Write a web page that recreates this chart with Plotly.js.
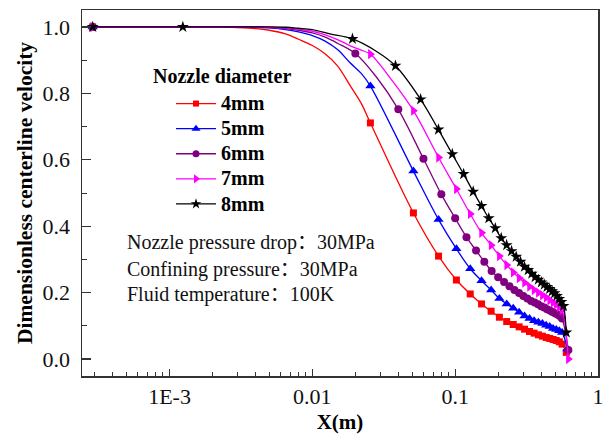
<!DOCTYPE html>
<html>
<head>
<meta charset="utf-8">
<script src="https://cdn.plot.ly/plotly-3.0.1.min.js"></script>
<style>html,body{margin:0;padding:0;background:#fff;}#chart{width:605px;height:434px;}</style>
</head>
<body>
<div id="chart"></div>
<script>
// ---- Data ----
const seriesNames = ['4mm', '5mm', '6mm', '7mm', '8mm'];

// 4mm (red squares): marker points, plus extra points that trace the drawn curve
const x4 = [0.00029, 0.0255, 0.051, 0.0765, 0.102, 0.1275, 0.153, 0.1785, 0.204, 0.2295, 0.255, 0.2805, 0.306, 0.3315, 0.357, 0.3825, 0.408, 0.4335, 0.459, 0.4845, 0.51, 0.5355, 0.561, 0.6];
const y4 = [1.0, 0.711, 0.440, 0.310, 0.238, 0.196, 0.166, 0.144, 0.126, 0.113, 0.104, 0.097, 0.090, 0.083, 0.078, 0.073, 0.069, 0.065, 0.062, 0.059, 0.056, 0.052, 0.045, 0.02];
const x4c = [0.002, 0.003, 0.004, 0.005, 0.0065, 0.008, 0.01, 0.0122, 0.015, 0.0183, 0.022];
const y4c = [1.0, 0.998, 0.995, 0.99, 0.979, 0.963, 0.944, 0.92, 0.883, 0.825, 0.77];

// 5mm (blue triangles)
const x5 = [0.00029, 0.0255, 0.051, 0.0765, 0.102, 0.1275, 0.153, 0.1785, 0.204, 0.2295, 0.255, 0.2805, 0.306, 0.3315, 0.357, 0.3825, 0.408, 0.4335, 0.459, 0.4845, 0.51, 0.5355, 0.561, 0.61];
const y5 = [1.0, 0.822, 0.566, 0.420, 0.332, 0.272, 0.236, 0.208, 0.182, 0.166, 0.153, 0.141, 0.130, 0.122, 0.115, 0.111, 0.107, 0.102, 0.098, 0.092, 0.089, 0.085, 0.080, 0.03];
const x5c = [0.002, 0.003, 0.004, 0.005, 0.0065, 0.008, 0.01, 0.0122, 0.015, 0.0183, 0.022];
const y5c = [1.0, 1.0, 0.999, 0.997, 0.992, 0.985, 0.974, 0.958, 0.932, 0.893, 0.86];

// 6mm (purple circles)
const x6 = [0.00029, 0.02, 0.04, 0.06, 0.08, 0.10, 0.12, 0.14, 0.16, 0.18, 0.20, 0.22, 0.24, 0.26, 0.28, 0.30, 0.32, 0.34, 0.36, 0.38, 0.40, 0.42, 0.44, 0.46, 0.48, 0.50, 0.52, 0.54, 0.56, 0.62];
const y6 = [1.0, 0.920, 0.752, 0.603, 0.496, 0.424, 0.367, 0.327, 0.293, 0.265, 0.246, 0.232, 0.219, 0.208, 0.199, 0.190, 0.182, 0.175, 0.170, 0.165, 0.159, 0.155, 0.150, 0.146, 0.142, 0.138, 0.134, 0.130, 0.122, 0.027];
const x6c = [0.002, 0.003, 0.004, 0.005, 0.0065, 0.008, 0.01, 0.0122, 0.015, 0.028];
const y6c = [1.0, 1.0, 1.0, 0.998, 0.995, 0.99, 0.982, 0.97, 0.951, 0.85];

// 7mm (magenta right triangles)
const x7 = [0.00029, 0.0255, 0.051, 0.0765, 0.102, 0.1275, 0.153, 0.1785, 0.204, 0.2295, 0.255, 0.2805, 0.306, 0.3315, 0.357, 0.3825, 0.408, 0.4335, 0.459, 0.4845, 0.51, 0.5355, 0.561, 0.62];
const y7 = [1.0, 0.918, 0.748, 0.607, 0.512, 0.437, 0.380, 0.343, 0.310, 0.283, 0.261, 0.244, 0.230, 0.218, 0.208, 0.200, 0.192, 0.185, 0.177, 0.170, 0.164, 0.157, 0.148, 0.0];
const x7c = [0.002, 0.003, 0.004, 0.005, 0.0065, 0.008, 0.01, 0.0122, 0.015, 0.0183, 0.022, 0.036];
const y7c = [1.0, 1.0, 1.0, 0.999, 0.997, 0.993, 0.987, 0.977, 0.962, 0.944, 0.93, 0.84];

// 8mm (black stars)
const x8 = [0.00029, 0.00124, 0.0191, 0.0382, 0.0573, 0.0764, 0.0955, 0.1146, 0.1337, 0.1528, 0.1719, 0.191, 0.2101, 0.2292, 0.2483, 0.2674, 0.2865, 0.3056, 0.3247, 0.3438, 0.3629, 0.382, 0.4011, 0.4202, 0.4393, 0.4584, 0.4775, 0.4966, 0.5157, 0.5348, 0.5539, 0.573, 0.6];
const y8 = [1.0, 1.0, 0.964, 0.883, 0.782, 0.691, 0.617, 0.557, 0.504, 0.461, 0.424, 0.394, 0.364, 0.343, 0.325, 0.308, 0.293, 0.278, 0.268, 0.257, 0.247, 0.239, 0.231, 0.224, 0.217, 0.211, 0.204, 0.198, 0.190, 0.181, 0.172, 0.160, 0.08];
const x8c = [0.003, 0.004, 0.005, 0.0065, 0.008, 0.01, 0.0133, 0.028];
const y8c = [1.0, 1.0, 1.0, 0.999, 0.996, 0.992, 0.979, 0.927];

const tickVals = [0.001, 0.01, 0.1, 1];
const tickText = ['1E-3', '0.01', '0.1', '1'];
const noteLines = ['Nozzle pressure drop：30MPa', 'Confining pressure：30MPa', 'Fluid temperature：100K'];

// ---- Styling ----
const colors = ['#ff0000', '#0000ff', '#800080', '#ff00ff', '#000000'];
const symbols = ['square', 'triangle-up', 'circle', 'triangle-right', 'star'];
const msizes = [7, 9, 8, 9, 9];
const serif = 'Liberation Serif, Times New Roman, Noto Sans CJK SC, serif';

const all = [[x4, y4, x4c, y4c], [x5, y5, x5c, y5c], [x6, y6, x6c, y6c], [x7, y7, x7c, y7c], [x8, y8, x8c, y8c]];

function mergeCurve(xm, ym, xc, yc) {
  const pts = xm.map((v, i) => [v, ym[i]]).concat(xc.map((v, i) => [v, yc[i]]));
  pts.sort((a, b) => a[0] - b[0]);
  return [pts.map(p => p[0]), pts.map(p => p[1])];
}

const traces = [];
all.forEach((s, i) => {
  const [lx, ly] = mergeCurve(s[0], s[1], s[2], s[3]);
  traces.push({
    x: lx, y: ly, mode: 'lines', type: 'scatter',
    line: {color: colors[i], width: 1.3, shape: 'spline', smoothing: 1},
    showlegend: false, hoverinfo: 'skip'
  });
  traces.push({
    x: s[0], y: s[1], mode: 'markers', type: 'scatter',
    marker: {symbol: symbols[i], color: colors[i], size: msizes[i], line: {width: 0}},
    showlegend: false
  });
});
// legend entries (line + marker)
all.forEach((s, i) => {
  traces.push({
    x: [null], y: [null], mode: 'lines+markers', type: 'scatter',
    name: '<span style="font-size:20px">' + seriesNames[i] + '</span>',
    line: {color: colors[i], width: 1.3},
    marker: {symbol: symbols[i], color: colors[i], size: msizes[i] - 1, line: {width: 0}}
  });
});

// minor tick positions for the log axis (2..9 in each decade)
const minorX = [];
for (let d = -4; d <= -1; d++) for (let m = 2; m <= 9; m++) minorX.push(m * Math.pow(10, d));

const axisCommon = {
  showline: true, linecolor: '#333', linewidth: 1.5, mirror: true,
  ticks: 'inside', tickcolor: '#333', tickwidth: 1.2,
  showgrid: false, zeroline: false,
  tickfont: {family: serif, size: 22, color: '#111'}
};

// plot area pixel mapping helpers for annotations (paper coords)
const L = 82, R = 598, T = 10, B = 376;
const px = v => (v - L) / (R - L);
const py = v => (B - v) / (B - T);

const annotations = [
  {text: '<b>Nozzle diameter</b>', x: px(151), y: py(76), xref: 'paper', yref: 'paper',
   xanchor: 'left', yanchor: 'middle', showarrow: false, font: {family: serif, size: 20, color: '#000'}}
];
[243, 269, 294].forEach((yy, i) => {
  annotations.push({text: noteLines[i], x: px(125), y: py(yy), xref: 'paper', yref: 'paper',
    xanchor: 'left', yanchor: 'middle', showarrow: false, font: {family: serif, size: 20, color: '#111'}});
});

const layout = {
  width: 605, height: 434,
  margin: {l: L, r: 605 - R, t: T, b: 434 - B},
  paper_bgcolor: '#fff', plot_bgcolor: '#fff',
  showlegend: true,
  legend: {
    x: px(171), y: py(86), xanchor: 'left', yanchor: 'top',
    bgcolor: 'rgba(0,0,0,0)', borderwidth: 0,
    font: {family: serif, size: 17, color: '#000', weight: 'bold'},
    traceorder: 'normal', itemwidth: 40
  },
  xaxis: Object.assign({}, axisCommon, {
    type: 'log', range: [Math.log10(2.44e-4), 0],
    tickmode: 'array', tickvals: tickVals, ticktext: tickText, ticklen: 7,
    minor: {ticks: 'inside', ticklen: 4, tickmode: 'array', tickvals: minorX, tickcolor: '#333', tickwidth: 1, showgrid: false},
    title: {text: '<b>X(m)</b>', font: {family: serif, size: 21, color: '#000'}, standoff: 6}
  }),
  yaxis: Object.assign({}, axisCommon, {
    range: [-0.051, 1.051], tick0: 0, dtick: 0.2, tickformat: '.1f', ticklen: 9,
    ticklabelstandoff: 6,
    minor: {ticks: 'inside', ticklen: 5, dtick: 0.1, tick0: 0, tickcolor: '#333', tickwidth: 1, showgrid: false},
    title: {text: '<b>Dimensionless centerline velocity</b>', font: {family: serif, size: 21.5, color: '#000'}, standoff: 4}
  }),
  annotations: annotations
};

Plotly.newPlot('chart', traces, layout, {staticPlot: true, displayModeBar: false});
</script>
</body>
</html>
